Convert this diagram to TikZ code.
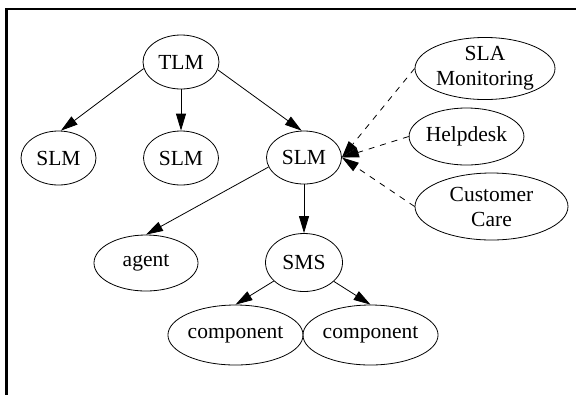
\documentclass[tikz,border=0pt]{standalone}
\usepackage{fontspec}
\setmainfont{Liberation Serif}
\usetikzlibrary{shapes.geometric,arrows.meta}
\begin{document}
\begin{tikzpicture}[x=1bp,y=-1bp,
  nd/.style={ellipse,draw,line width=0.8bp,inner sep=0pt,align=center,
    font=\fontsize{21.5bp}{25bp}\selectfont},
  edge/.style={line width=0.8bp,-{Triangle[length=17bp,width=10bp]}},
  dedge/.style={edge,dash pattern=on 6bp off 6bp},
  frame/.style={line width=2.6bp}]
\useasboundingbox (0,0) rectangle (576,394);
\draw[frame] (6.6,395) -- (6.6,9) -- (577,9);
\node[nd,minimum width=76bp,minimum height=54bp] (tlm) at (181,62) {TLM};
\node[nd,minimum width=75bp,minimum height=54bp] (slm1) at (58.5,158) {SLM};
\node[nd,minimum width=75bp,minimum height=54bp] (slm2) at (181,158) {SLM};
\node[nd,minimum width=75bp,minimum height=53bp] (slm3) at (304,157.5) {SLM};
\node[nd,minimum width=104bp,minimum height=56bp] (agent) at (146,263) {agent};
\node[nd,minimum width=77bp,minimum height=58bp] (sms) at (304,262.5) {SMS};
\node[nd,minimum width=117bp,minimum height=60bp] (comp1) at (235.5,335) {component};
\node[nd,minimum width=117bp,minimum height=60bp] (comp2) at (370.5,335) {component};
\node[nd,minimum width=140bp,minimum height=61bp] (sla) at (485,68.5) {SLA\\Monitoring};
\node[nd,minimum width=103bp,minimum height=57bp] (help) at (466.5,136.5) {Helpdesk};
\node[nd,minimum width=153bp,minimum height=67bp] (cc) at (491.5,206.5) {Customer\\Care};
\draw[edge] (tlm.190) -- (slm1.85);
\draw[edge] (tlm) -- (slm2);
\draw[edge] (tlm.-12) -- (slm3.95);
\draw[edge] (slm3.195) -- (agent.north);
\draw[edge] (slm3) -- (sms);
\draw[edge] (sms) -- (comp1.north);
\draw[edge] (sms) -- (comp2.north);
\draw[dedge] (sla.west) -- (slm3.east);
\draw[dedge] (help.west) -- (slm3.east);
\draw[dedge] (cc.west) -- (slm3.east);
\end{tikzpicture}
\end{document}
